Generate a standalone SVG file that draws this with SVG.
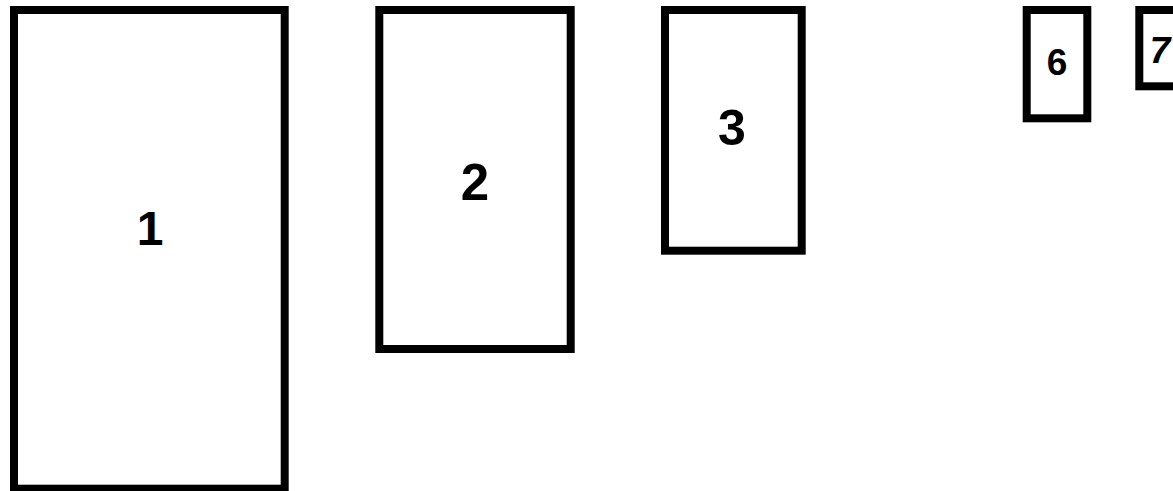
<svg xmlns="http://www.w3.org/2000/svg" width="1173" height="491" viewBox="0 0 1173 491">
<style>
.box{fill:#fff;stroke:#000;stroke-width:8}
.lbl{font-family:"Liberation Sans",Arial,sans-serif;font-weight:bold;fill:#000;text-anchor:middle}
</style>
<rect width="1173" height="491" fill="#fff"/>
<g id="node1"><rect class="box" x="14" y="10" width="270.7" height="478.7"/><text class="lbl" x="150" y="245" font-size="48">1</text></g>
<g id="node2"><rect class="box" x="379.3" y="10" width="191.4" height="339"/><text class="lbl" x="475" y="200" font-size="51">2</text></g>
<g id="node3"><rect class="box" x="665" y="10" width="136.7" height="240.7"/><text class="lbl" x="732" y="145" font-size="50">3</text></g>
<g id="node6"><rect class="box" x="1026.7" y="10" width="60.6" height="108.3"/><text class="lbl" x="1057" y="75" font-size="37">6</text></g>
<g id="node7"><rect class="box" x="1139.3" y="10" width="60" height="76.3"/><text class="lbl" x="1160" y="63" font-size="37" font-style="italic">7</text></g>
<g id="connectors"></g>
</svg>
